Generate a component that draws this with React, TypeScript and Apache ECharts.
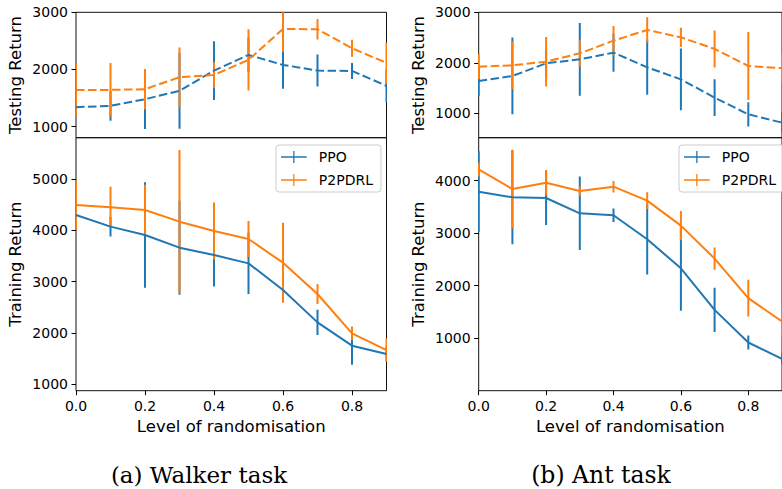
import React, { useEffect, useRef } from "react";
import * as echarts from "echarts";

// Level of randomisation
const xs = [0, 0.1, 0.2, 0.3, 0.4, 0.5, 0.6, 0.7, 0.8, 0.9];
const xTicks = [0, 0.2, 0.4, 0.6, 0.8];

// Walker task
const walkerTestPPO = [1340, 1362, 1479, 1625, 1980, 2254, 2079, 1980, 1974, 1712];
const walkerTestPPOErr = [130, 260, 520, 665, 515, 300, 415, 280, 140, 285];
const walkerTestP2 = [1642, 1642, 1654, 1864, 1904, 2167, 2709, 2703, 2371, 2114];
const walkerTestP2Err = [450, 470, 355, 520, 225, 535, 400, 180, 150, 355];
const walkerTrainPPO = [4298, 4070, 3907, 3660, 3517, 3354, 2834, 2203, 1748, 1585];
const walkerTrainPPOErr = [200, 190, 1030, 920, 615, 600, 230, 245, 370, 140];
const walkerTrainP2 = [4493, 4447, 4395, 4167, 3985, 3829, 3367, 2756, 1989, 1663];
const walkerTrainP2Err = [475, 400, 490, 1400, 555, 350, 780, 195, 130, 230];

// Ant task
const antTestPPO = [1640, 1739, 1990, 2069, 2201, 1911, 1673, 1310, 980, 815];
const antTestPPOErr = [290, 760, 280, 720, 376, 545, 610, 365, 240, 200];
const antTestP2 = [1924, 1950, 2023, 2188, 2439, 2650, 2505, 2274, 1937, 1895];
const antTestP2Err = [245, 470, 490, 260, 290, 250, 190, 365, 675, 300];
const antTrainPPO = [3791, 3683, 3670, 3379, 3341, 2884, 2332, 1540, 918, 607];
const antTrainPPOErr = [770, 895, 513, 700, 130, 670, 810, 420, 135, 100];
const antTrainP2 = [4216, 3841, 3962, 3803, 3886, 3620, 3144, 2516, 1762, 1320];
const antTrainP2Err = [130, 750, 240, 90, 110, 160, 280, 210, 350, 300];

const testTicks = [1000, 2000, 3000];
const walkerTrainTicks = [1000, 2000, 3000, 4000, 5000];
const antTrainTicks = [1000, 2000, 3000, 4000];

const BLUE = "#1f77b4";
const ORANGE = "#ff7f0e";
const FONT = "DejaVu Sans";

export default function App() {
  const ref = useRef<HTMLDivElement>(null);
  useEffect(() => {
    document.body.style.margin = "0";
    const chart = echarts.init(ref.current!, null, { renderer: "svg" });

    const grids = [
      { left: 76, top: 12.3, width: 310.5, height: 125.4 },
      { left: 76, top: 137.7, width: 310.5, height: 253 },
      { left: 478.7, top: 12.3, width: 311.6, height: 125.4 },
      { left: 478.7, top: 137.7, width: 311.6, height: 253 },
    ].map((g) => ({ ...g, show: true, borderColor: "#111", borderWidth: 1, backgroundColor: "transparent" }));

    const xAxis = grids.map((_, i) => {
      const bottom = i === 1 || i === 3;
      return {
        type: "value",
        gridIndex: i,
        min: 0,
        max: 0.9,
        axisLine: { show: false },
        splitLine: { show: false },
        axisTick: {
          show: bottom,
          customValues: xTicks,
          length: 4.5,
          lineStyle: { color: "#000", width: 1 },
        },
        axisLabel: {
          show: bottom,
          customValues: xTicks,
          formatter: (v: number) => v.toFixed(1),
          fontFamily: FONT,
          fontSize: 14,
          color: "#000",
          margin: 8,
        },
        name: bottom ? "Level of randomisation" : "",
        nameLocation: "middle",
        nameGap: 27,
        nameTextStyle: { fontFamily: FONT, fontSize: 16.5, color: "#000" },
      };
    });

    const yCfg = [
      { min: 805, max: 3000, ticks: testTicks, name: "Testing Return" },
      { min: 870, max: 5805, ticks: walkerTrainTicks, name: "Training Return" },
      { min: 517, max: 3000, ticks: testTicks, name: "Testing Return" },
      { min: 0, max: 4819, ticks: antTrainTicks, name: "Training Return" },
    ];
    const yAxis = yCfg.map((c, i) => ({
      type: "value",
      gridIndex: i,
      min: c.min,
      max: c.max,
      axisLine: { show: false },
      splitLine: { show: false },
      axisTick: { show: true, customValues: c.ticks, length: 4.5, lineStyle: { color: "#000", width: 1 } },
      axisLabel: {
        customValues: c.ticks,
        formatter: (v: number) => String(Math.round(v)),
        fontFamily: FONT,
        fontSize: 14,
        color: "#000",
        margin: 8,
      },
      name: c.name,
      nameLocation: "middle",
      nameGap: 52,
      nameTextStyle: { fontFamily: FONT, fontSize: 16.5, color: "#000" },
    }));

    const errSeries = (idx: number, vals: number[], errs: number[], color: string) => ({
      type: "custom",
      name: "err",
      xAxisIndex: idx,
      yAxisIndex: idx,
      clip: true,
      silent: true,
      data: xs.map((x, i) => [x, vals[i] - errs[i], vals[i] + errs[i]]),
      encode: { x: 0, y: [1, 2] },
      renderItem: (_p: any, api: any) => {
        const a = api.coord([api.value(0), api.value(1)]);
        const b = api.coord([api.value(0), api.value(2)]);
        return {
          type: "line",
          shape: { x1: a[0], y1: a[1], x2: b[0], y2: b[1] },
          style: { stroke: color, lineWidth: 2 },
        };
      },
    });
    const lineSeries = (idx: number, name: string, vals: number[], color: string, dashed: boolean) => ({
      type: "line",
      name,
      xAxisIndex: idx,
      yAxisIndex: idx,
      symbol: "none",
      clip: true,
      data: xs.map((x, i) => [x, vals[i]]),
      lineStyle: { color, width: 2, type: dashed ? [8.5, 3.5] : "solid" },
      itemStyle: { color },
    });

    const panels: [number, number[], number[], number[], number[], boolean][] = [
      [0, walkerTestPPO, walkerTestPPOErr, walkerTestP2, walkerTestP2Err, true],
      [1, walkerTrainPPO, walkerTrainPPOErr, walkerTrainP2, walkerTrainP2Err, false],
      [2, antTestPPO, antTestPPOErr, antTestP2, antTestP2Err, true],
      [3, antTrainPPO, antTrainPPOErr, antTrainP2, antTrainP2Err, false],
    ];
    const series: any[] = [];
    panels.forEach(([idx, ppo, ppoE, p2, p2E, dashed]) => {
      series.push(errSeries(idx, ppo, ppoE, BLUE));
      series.push(lineSeries(idx, "PPO", ppo, BLUE, dashed));
      series.push(errSeries(idx, p2, p2E, ORANGE));
      series.push(lineSeries(idx, "P2PDRL", p2, ORANGE, dashed));
    });

    const legendIcon = "path://M0,6.25h30v1.5h-30zM14.25,0h1.5v14h-1.5z";
    const mkLegend = (left: number) => ({
      left,
      top: 145,
      orient: "vertical",
      data: [
        { name: "PPO", icon: legendIcon },
        { name: "P2PDRL", icon: legendIcon },
      ],
      itemWidth: 30,
      itemHeight: 12,
      itemGap: 9,
      padding: [5, 8, 5, 5],
      backgroundColor: "rgba(255,255,255,0.8)",
      borderColor: "#cccccc",
      borderWidth: 1,
      borderRadius: 3,
      selectedMode: false,
      textStyle: { fontFamily: FONT, fontSize: 14, color: "#000", padding: [0, 0, 0, 5] },
    });

    chart.setOption({
      animation: false,
      backgroundColor: "#fff",
      grid: grids,
      xAxis,
      yAxis,
      legend: [mkLegend(276), mkLegend(679)],
      series,
      graphic: [
        {
          type: "text",
          x: 199,
          y: 475,
          style: { text: "(a) Walker task", fontFamily: "DejaVu Serif", fontSize: 23, fill: "#000", align: "center", verticalAlign: "middle" },
        },
        {
          type: "text",
          x: 601,
          y: 475,
          style: { text: "(b) Ant task", fontFamily: "DejaVu Serif", fontSize: 23.5, fill: "#000", align: "center", verticalAlign: "middle" },
        },
      ],
    });
    return () => chart.dispose();
  }, []);
  return <div ref={ref} style={{ width: 782, height: 489 }} />;
}
